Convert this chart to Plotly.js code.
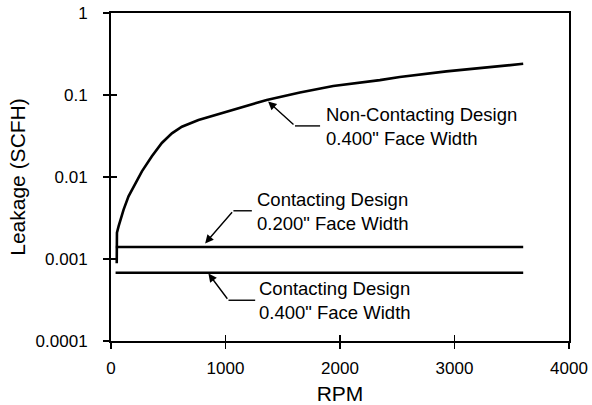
<!DOCTYPE html>
<html>
<head>
<meta charset="utf-8">
<script src="https://cdn.plot.ly/plotly-3.0.1.min.js"></script>
<style>html,body{margin:0;padding:0;background:#fff;}#chart{width:592px;height:405px;}</style>
</head>
<body>
<div id="chart"></div>
<script>
// Data
const rpmNonContact = [50, 52, 66, 110, 153, 212, 270, 357, 444, 532, 619, 764, 910, 1069, 1360, 1650, 1941, 2348, 2522, 2929, 3300, 3600];
const leakNonContact = [0.00089, 0.0021, 0.0025, 0.0040, 0.0058, 0.00845, 0.0117, 0.0179, 0.026, 0.0341, 0.041, 0.0495, 0.057, 0.067, 0.087, 0.107, 0.129, 0.152, 0.166, 0.194, 0.217, 0.24];
const rpmContact200 = [42, 3600];
const leakContact200 = [0.0014, 0.0014];
const rpmContact400 = [40, 3600];
const leakContact400 = [0.00068, 0.00068];
const yTickVals = [0.0001, 0.001, 0.01, 0.1, 1];
const yTickText = ["0.0001", "0.001", "0.01", "0.1", "1"];
const xTickVals = [0, 1000, 2000, 3000, 4000];
const xTickText = ["0", "1000", "2000", "3000", "4000"];

const FONT = "Liberation Sans, Arial, Helvetica, sans-serif";
const lineStyle = {color: "#000", width: 2.4};

const traces = [
  {x: rpmNonContact, y: leakNonContact, mode: "lines", line: {color: "#000", width: 2.6}, hoverinfo: "skip"},
  {x: rpmContact200, y: leakContact200, mode: "lines", line: lineStyle, hoverinfo: "skip"},
  {x: rpmContact400, y: leakContact400, mode: "lines", line: lineStyle, xaxis: "x2", yaxis: "y2", hoverinfo: "skip"}
];

const arrowAnn = (x, y, ax, ay) => ({
  x: x, y: y, ax: ax, ay: ay, xref: "x", yref: "y", axref: "x", ayref: "y",
  text: "", showarrow: true, arrowhead: 2, arrowsize: 1.2, arrowwidth: 1.4, arrowcolor: "#000", standoff: 0
});
const textAnn = (x, y, txt) => ({
  x: x, y: y, xref: "x", yref: "y", text: txt, showarrow: false,
  xanchor: "left", yanchor: "middle", align: "left",
  font: {family: FONT, size: 18.5, color: "#000"}
});
const hLine = (x0, x1, y) => ({type: "line", xref: "x", yref: "y", x0: x0, x1: x1, y0: y, y1: y, line: {color: "#000", width: 1.4}});

const layout = {
  width: 592, height: 405,
  margin: {l: 111, r: 23, t: 13, b: 64},
  paper_bgcolor: "#fff", plot_bgcolor: "#fff",
  showlegend: false,
  font: {family: FONT, size: 17, color: "#000"},
  xaxis: {
    range: [0, 4000], tickvals: xTickVals, ticktext: xTickText,
    ticks: "outside", ticklen: 6, tickwidth: 1.5, tickcolor: "#000",
    showline: true, linecolor: "#000", linewidth: 2, mirror: true,
    showgrid: false, zeroline: false, ticklabelstandoff: 5,
    tickfont: {family: FONT, size: 17},
    title: {text: "RPM", font: {family: FONT, size: 21}, standoff: 15}
  },
  yaxis: {
    type: "log", range: [-4, 0], tickvals: yTickVals, ticktext: yTickText,
    ticks: "outside", ticklen: 6, tickwidth: 1.5, tickcolor: "#000",
    showline: true, linecolor: "#000", linewidth: 2, mirror: true,
    showgrid: false, zeroline: false, ticklabelstandoff: 12,
    tickfont: {family: FONT, size: 17},
    title: {text: "Leakage (SCFH)", font: {family: FONT, size: 21}, standoff: 4}
  },
  xaxis2: {
    overlaying: "x", anchor: "y2", side: "bottom", range: [0, 4000], tickvals: xTickVals,
    ticks: "inside", ticklen: 6, tickwidth: 1.5, tickcolor: "#000",
    showticklabels: false, showline: false, showgrid: false, zeroline: false
  },
  yaxis2: {
    overlaying: "y", anchor: "x2", side: "left", type: "log", range: [-4, 0], tickvals: yTickVals,
    ticks: "inside", ticklen: 6, tickwidth: 1.5, tickcolor: "#000",
    showticklabels: false, showline: false, showgrid: false, zeroline: false
  },
  annotations: [
    arrowAnn(1372, -1.080, 1607, -1.377),
    textAnn(1858, -1.389, "Non-Contacting Design<br>0.400\" Face Width"),
    arrowAnn(822, -2.810, 1069, -2.412),
    textAnn(1261, -2.421, "Contacting Design<br>0.200\" Face Width"),
    arrowAnn(851, -3.177, 1026, -3.503),
    textAnn(1276, -3.509, "Contacting Design<br>0.400\" Face Width")
  ],
  shapes: [
    hLine(1607, 1826, Math.pow(10, -1.377)),
    hLine(1069, 1230, Math.pow(10, -2.412)),
    hLine(1026, 1259, Math.pow(10, -3.503))
  ]
};

Plotly.newPlot("chart", traces, layout, {staticPlot: true, displayModeBar: false});
</script>
</body>
</html>
